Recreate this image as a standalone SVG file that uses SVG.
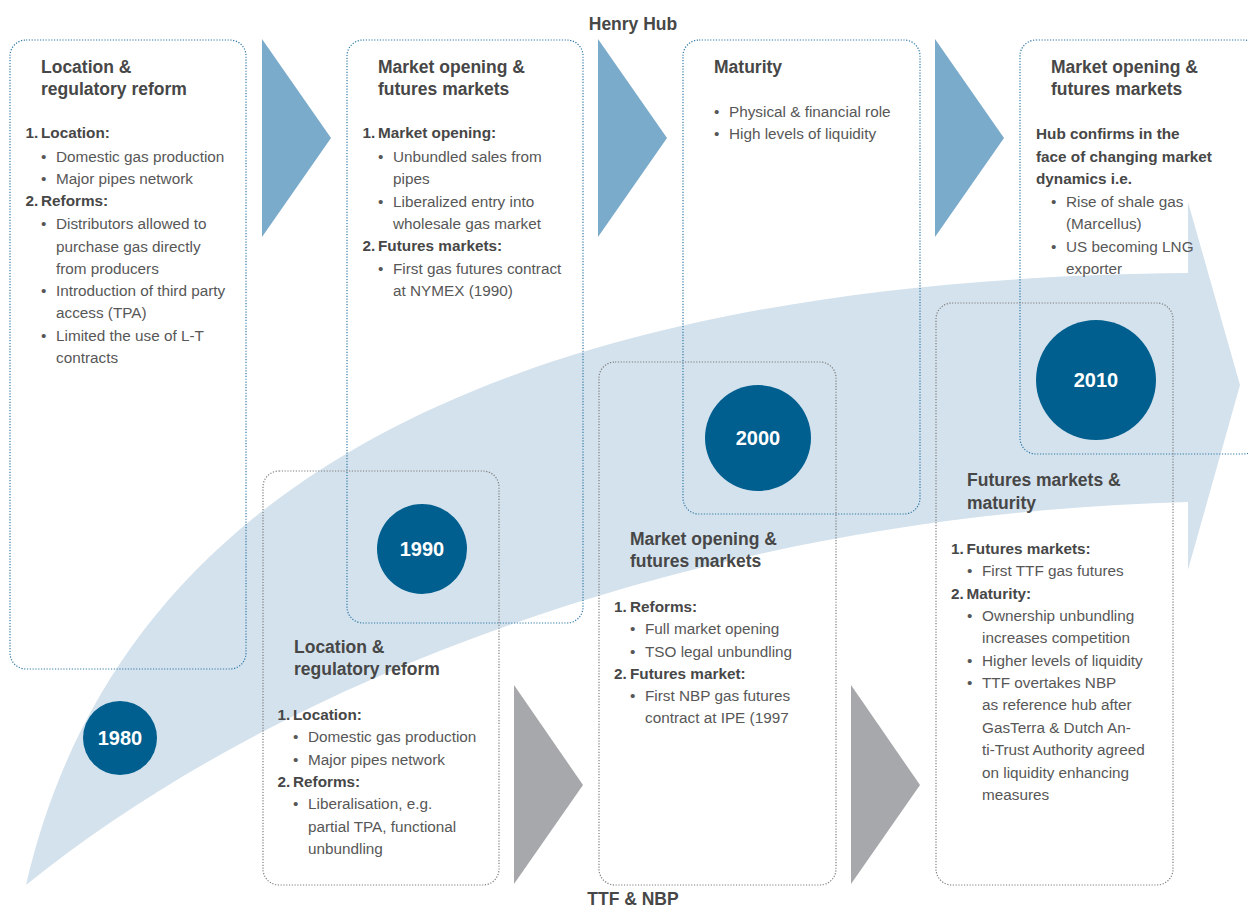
<svg xmlns="http://www.w3.org/2000/svg" width="1248" height="909" viewBox="0 0 1248 909">
<style>
.t{font-family:'Liberation Sans',Arial,sans-serif;font-weight:bold;font-size:17.5px;fill:#474747}
.h{font-family:'Liberation Sans',Arial,sans-serif;font-weight:bold;font-size:15.3px;fill:#474747}
.b{font-family:'Liberation Sans',Arial,sans-serif;font-size:15.3px;fill:#575757}
.y{font-family:'Liberation Sans',Arial,sans-serif;font-weight:bold;font-size:20px;fill:#ffffff;text-anchor:middle}
.lab{font-family:'Liberation Sans',Arial,sans-serif;font-weight:bold;font-size:17.5px;fill:#474747;text-anchor:middle}
.bt{fill:none;stroke:#2f78a6;stroke-width:1.2;stroke-dasharray:1.2 1.6}
.bg{fill:none;stroke:#7d7d7d;stroke-width:1.2;stroke-dasharray:1.2 1.6}
.cb{fill:#7aabcb}
.cg{fill:#a6a8ab}
.yr{fill:#005f8e}
</style>
<rect width="1248" height="909" fill="#ffffff"/>
<g id="big-arrow">
<path d="M26,885 C110,520 450,280 1188,273 L1188,202 L1240,385 L1188,570 L1188,502 C700,515 280,680 26,885 Z" fill="#d4e2ed"/>
</g>
<g id="connectors">
<polygon class="cb" points="262,39 331,138 262,237"/>
<polygon class="cb" points="598,39 667,138 598,237"/>
<polygon class="cb" points="935,39 1004,138 935,237"/>
<polygon class="cg" points="514,685 583,785 514,884"/>
<polygon class="cg" points="851,685 920,785 851,884"/>
</g>
<g id="hh-1980">
<rect class="bt" x="10" y="40" width="236" height="629" rx="16"/>
<text class="t" x="41" y="73">Location &amp;</text>
<text class="t" x="41" y="95">regulatory reform</text>
<text class="h" x="25.5" y="138">1.</text><text class="h" x="41" y="138">Location:</text>
<text class="b" x="41" y="162">•</text><text class="b" x="56" y="162">Domestic gas production</text>
<text class="b" x="41" y="184">•</text><text class="b" x="56" y="184">Major pipes network</text>
<text class="h" x="25.5" y="206">2.</text><text class="h" x="41" y="206">Reforms:</text>
<text class="b" x="41" y="229">•</text><text class="b" x="56" y="229">Distributors allowed to</text>
<text class="b" x="56" y="252">purchase gas directly</text>
<text class="b" x="56" y="274">from producers</text>
<text class="b" x="41" y="296">•</text><text class="b" x="56" y="296">Introduction of third party</text>
<text class="b" x="56" y="318">access (TPA)</text>
<text class="b" x="41" y="341">•</text><text class="b" x="56" y="341">Limited the use of L-T</text>
<text class="b" x="56" y="363">contracts</text>
</g>
<g id="hh-1990">
<rect class="bt" x="347" y="40" width="236" height="583" rx="16"/>
<text class="t" x="378" y="73">Market opening &amp;</text>
<text class="t" x="378" y="95">futures markets</text>
<text class="h" x="362.5" y="138">1.</text><text class="h" x="378" y="138">Market opening:</text>
<text class="b" x="378" y="162">•</text><text class="b" x="393" y="162">Unbundled sales from</text>
<text class="b" x="393" y="184">pipes</text>
<text class="b" x="378" y="207">•</text><text class="b" x="393" y="207">Liberalized entry into</text>
<text class="b" x="393" y="229">wholesale gas market</text>
<text class="h" x="362.5" y="251">2.</text><text class="h" x="378" y="251">Futures markets:</text>
<text class="b" x="378" y="274">•</text><text class="b" x="393" y="274">First gas futures contract</text>
<text class="b" x="393" y="296">at NYMEX (1990)</text>
</g>
<g id="hh-2000">
<rect class="bt" x="683" y="40" width="237" height="474" rx="16"/>
<text class="t" x="714" y="73">Maturity</text>
<text class="b" x="714" y="117">•</text><text class="b" x="729" y="117">Physical &amp; financial role</text>
<text class="b" x="714" y="139">•</text><text class="b" x="729" y="139">High levels of liquidity</text>
</g>
<g id="hh-2010">
<rect class="bt" x="1020" y="40" width="240" height="414" rx="16"/>
<text class="t" x="1051" y="73">Market opening &amp;</text>
<text class="t" x="1051" y="95">futures markets</text>
<text class="h" x="1036" y="139">Hub confirms in the</text>
<text class="h" x="1036" y="162">face of changing market</text>
<text class="h" x="1036" y="184">dynamics i.e.</text>
<text class="b" x="1051" y="207">•</text><text class="b" x="1066" y="207">Rise of shale gas</text>
<text class="b" x="1066" y="229">(Marcellus)</text>
<text class="b" x="1051" y="252">•</text><text class="b" x="1066" y="252">US becoming LNG</text>
<text class="b" x="1066" y="274">exporter</text>
</g>
<g id="eu-1990">
<rect class="bg" x="263" y="471" width="236" height="414" rx="16"/>
<text class="t" x="294" y="653">Location &amp;</text>
<text class="t" x="294" y="675">regulatory reform</text>
<text class="h" x="277.5" y="720">1.</text><text class="h" x="293" y="720">Location:</text>
<text class="b" x="293" y="742">•</text><text class="b" x="308" y="742">Domestic gas production</text>
<text class="b" x="293" y="765">•</text><text class="b" x="308" y="765">Major pipes network</text>
<text class="h" x="277.5" y="787">2.</text><text class="h" x="293" y="787">Reforms:</text>
<text class="b" x="293" y="809">•</text><text class="b" x="308" y="809">Liberalisation, e.g.</text>
<text class="b" x="308" y="832">partial TPA, functional</text>
<text class="b" x="308" y="854">unbundling</text>
</g>
<g id="eu-2000">
<rect class="bg" x="599" y="362" width="237" height="523" rx="16"/>
<text class="t" x="630" y="545">Market opening &amp;</text>
<text class="t" x="630" y="567">futures markets</text>
<text class="h" x="614" y="612">1.</text><text class="h" x="630" y="612">Reforms:</text>
<text class="b" x="630" y="634">•</text><text class="b" x="645" y="634">Full market opening</text>
<text class="b" x="630" y="657">•</text><text class="b" x="645" y="657">TSO legal unbundling</text>
<text class="h" x="614" y="679">2.</text><text class="h" x="630" y="679">Futures market:</text>
<text class="b" x="630" y="701">•</text><text class="b" x="645" y="701">First NBP gas futures</text>
<text class="b" x="645" y="723">contract at IPE (1997</text>
</g>
<g id="eu-2010">
<rect class="bg" x="936" y="303" width="237" height="582" rx="16"/>
<text class="t" x="967" y="486">Futures markets &amp;</text>
<text class="t" x="967" y="509">maturity</text>
<text class="h" x="951" y="554">1.</text><text class="h" x="966.5" y="554">Futures markets:</text>
<text class="b" x="967" y="576">•</text><text class="b" x="982" y="576">First TTF gas futures</text>
<text class="h" x="951" y="599">2.</text><text class="h" x="966.5" y="599">Maturity:</text>
<text class="b" x="967" y="621">•</text><text class="b" x="982" y="621">Ownership unbundling</text>
<text class="b" x="982" y="643">increases competition</text>
<text class="b" x="967" y="666">•</text><text class="b" x="982" y="666">Higher levels of liquidity</text>
<text class="b" x="967" y="688">•</text><text class="b" x="982" y="688">TTF overtakes NBP</text>
<text class="b" x="982" y="710">as reference hub after</text>
<text class="b" x="982" y="733">GasTerra &amp; Dutch An-</text>
<text class="b" x="982" y="755">ti-Trust Authority agreed</text>
<text class="b" x="982" y="778">on liquidity enhancing</text>
<text class="b" x="982" y="800">measures</text>
</g>
<g id="year-1980"><circle class="yr" cx="120" cy="738" r="37"/><text class="y" x="120" y="745">1980</text></g>
<g id="year-1990"><circle class="yr" cx="422" cy="549" r="45"/><text class="y" x="422" y="556">1990</text></g>
<g id="year-2000"><circle class="yr" cx="758" cy="438" r="53"/><text class="y" x="758" y="445">2000</text></g>
<g id="year-2010"><circle class="yr" cx="1096" cy="380" r="60"/><text class="y" x="1096" y="387">2010</text></g>
<g id="labels">
<text class="lab" x="633" y="30">Henry Hub</text>
<text class="lab" x="633" y="905">TTF &amp; NBP</text>
</g>
</svg>
